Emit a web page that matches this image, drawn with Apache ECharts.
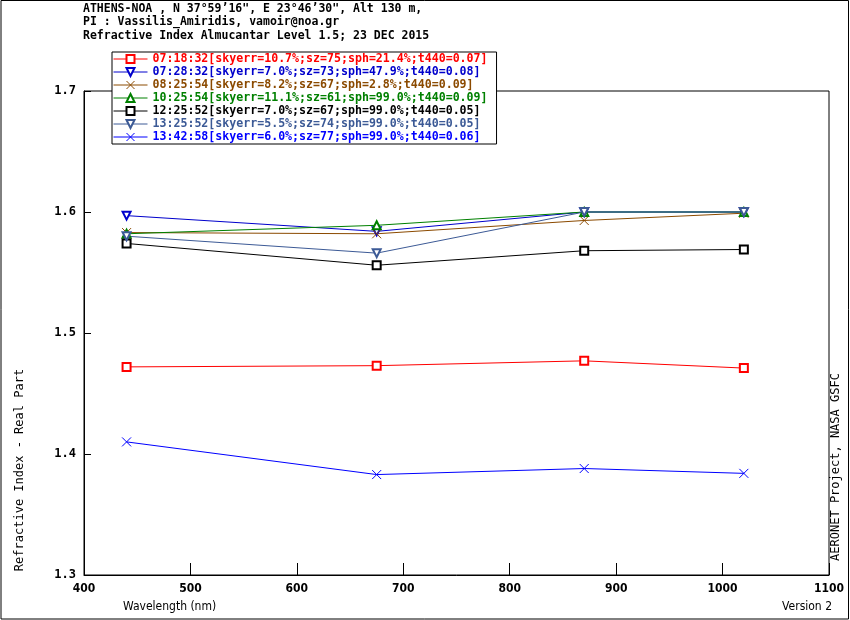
<!DOCTYPE html>
<html>
<head>
<meta charset="utf-8">
<title>Refractive Index Almucantar Level 1.5</title>
<script src="https://cdn.jsdelivr.net/npm/echarts@6/dist/echarts.min.js"></script>
<style>
    html, body { margin: 0; padding: 0; background: #fff; }
    #chart { width: 850px; height: 620px; }
</style>
</head>
<body>
<div id="chart"></div>
<script>
// wavelengths (nm) of the almucantar retrievals
var wavelengths = [440, 675, 870, 1020];

// legend labels, one per retrieval
var seriesNames = [
    '07:18:32[skyerr=10.7%;sz=75;sph=21.4%;t440=0.07]',
    '07:28:32[skyerr=7.0%;sz=73;sph=47.9%;t440=0.08]',
    '08:25:54[skyerr=8.2%;sz=67;sph=2.8%;t440=0.09]',
    '10:25:54[skyerr=11.1%;sz=61;sph=99.0%;t440=0.09]',
    '12:25:52[skyerr=7.0%;sz=67;sph=99.0%;t440=0.05]',
    '13:25:52[skyerr=5.5%;sz=74;sph=99.0%;t440=0.05]',
    '13:42:58[skyerr=6.0%;sz=77;sph=99.0%;t440=0.06]'
];

// real part of refractive index at each wavelength
var ri0718 = [1.472, 1.473, 1.477, 1.471];
var ri0728 = [1.597, 1.584, 1.600, 1.600];
var ri0825 = [1.583, 1.582, 1.593, 1.599];
var ri1025 = [1.582, 1.589, 1.600, 1.600];
var ri1225 = [1.574, 1.556, 1.568, 1.569];
var ri1325 = [1.580, 1.566, 1.600, 1.600];
var ri1342 = [1.410, 1.383, 1.388, 1.384];

var xTicks = [400, 500, 600, 700, 800, 900, 1000, 1100];
var yTicks = [1.3, 1.4, 1.5, 1.6, 1.7];

var titleLines = [
    'ATHENS-NOA , N 37\u00b059\u201916", E 23\u00b046\u201930", Alt 130 m,',
    'PI : Vassilis_Amiridis, vamoir@noa.gr',
    'Refractive Index Almucantar Level 1.5; 23 DEC 2015'
];

var MONO = "'DejaVu Sans Mono', 'Liberation Mono', monospace";
var NARROW = "'DejaVu Sans Condensed', 'DejaVu Sans Mono', sans-serif";
var XMARK = 'path://M0,0L10,10M10,0L0,10';

var allValues = [ri0718, ri0728, ri0825, ri1025, ri1225, ri1325, ri1342];
var colors = ['#ff0000', '#0000cc', '#8b4a00', '#008000', '#000000', '#3c5a96', '#0000ff'];
var symbols = ['emptyRect', 'emptyTriangle', XMARK, 'emptyTriangle', 'emptyRect', 'emptyTriangle', XMARK];
var rotates = [0, 180, 0, 0, 0, 180, 0];

function pairs(vals) {
    var out = [];
    for (var i = 0; i < wavelengths.length; i++) {
        out.push([wavelengths[i], vals[i]]);
    }
    return out;
}

var series = [];
var legendData = [];
for (var i = 0; i < seriesNames.length; i++) {
    series.push({
        name: seriesNames[i],
        type: 'line',
        data: pairs(allValues[i]),
        symbol: symbols[i],
        symbolSize: symbols[i] === XMARK ? 9 : 8,
        symbolRotate: rotates[i],
        showAllSymbol: true,
        animation: false,
        lineStyle: { color: colors[i], width: 1 },
        itemStyle: { color: colors[i], borderColor: colors[i], borderWidth: 1 },
        emphasis: { disabled: true }
    });
    legendData.push({ name: seriesNames[i], textStyle: { color: colors[i] } });
}

var graphics = [
    // outer frame of the picture
    {
        type: 'rect', shape: { x: 1, y: 0.5, width: 847.5, height: 618.5 },
        style: { fill: 'none', stroke: '#000', lineWidth: 1 }, silent: true
    },
    {
        type: 'text', x: 20, y: 470, rotation: Math.PI / 2,
        style: { text: 'Refractive Index - Real Part', font: '12px ' + MONO, fill: '#000', textAlign: 'center', textVerticalAlign: 'middle' }
    },
    {
        type: 'text', x: 836, y: 467, rotation: Math.PI / 2,
        style: { text: 'AERONET Project, NASA GSFC', font: '12px ' + MONO, fill: '#000', textAlign: 'center', textVerticalAlign: 'middle' }
    },
    {
        type: 'text', x: 123, y: 607,
        style: { text: 'Wavelength (nm)', font: '12px ' + NARROW, fill: '#000', textAlign: 'left', textVerticalAlign: 'middle' }
    },
    {
        type: 'text', x: 832, y: 607,
        style: { text: 'Version 2', font: '12px ' + NARROW, fill: '#000', textAlign: 'right', textVerticalAlign: 'middle' }
    }
];
for (var t = 0; t < titleLines.length; t++) {
    graphics.push({
        type: 'text', x: 83, y: 9 + t * 13.3,
        style: { text: titleLines[t], font: 'bold 11.5px ' + MONO, fill: '#000', textAlign: 'left', textVerticalAlign: 'middle' }
    });
}

var option = {
    backgroundColor: '#fff',
    animation: false,
    grid: {
        left: 84, top: 91, width: 745, height: 484,
        show: true, borderColor: '#000', borderWidth: 1, backgroundColor: 'transparent'
    },
    legend: {
        orient: 'vertical',
        left: 112, top: 52,
        itemWidth: 34, itemHeight: 10, itemGap: 1,
        padding: [1, 9, 1, 1],
        borderColor: '#000', borderWidth: 1,
        backgroundColor: '#fff',
        selectedMode: false,
        itemStyle: { borderWidth: 1 },
        lineStyle: { width: 1 },
        textStyle: { fontFamily: MONO, fontWeight: 'bold', fontSize: 11.6, lineHeight: 12 },
        data: legendData
    },
    xAxis: {
        type: 'value',
        min: xTicks[0], max: xTicks[xTicks.length - 1], interval: 100,
        axisLine: { lineStyle: { color: '#000', width: 1 } },
        axisTick: { inside: true, length: 12, lineStyle: { color: '#000' } },
        axisLabel: {
            color: '#000', fontFamily: NARROW, fontWeight: 'bold', fontSize: 12, margin: 8,
            formatter: function (v) { return String(v); }
        },
        splitLine: { show: false }
    },
    yAxis: {
        type: 'value',
        min: yTicks[0], max: yTicks[yTicks.length - 1], interval: 0.1,
        axisLine: { show: true, lineStyle: { color: '#000', width: 1 } },
        axisTick: { show: true, inside: true, length: 7, lineStyle: { color: '#000' } },
        axisLabel: {
            color: '#000', fontFamily: MONO, fontWeight: 'bold', fontSize: 12, margin: 8,
            formatter: function (v) { return v.toFixed(1); }
        },
        splitLine: { show: false }
    },
    graphic: graphics,
    series: series
};

var chart = echarts.init(document.getElementById('chart'));
chart.setOption(option);
</script>
</body>
</html>
